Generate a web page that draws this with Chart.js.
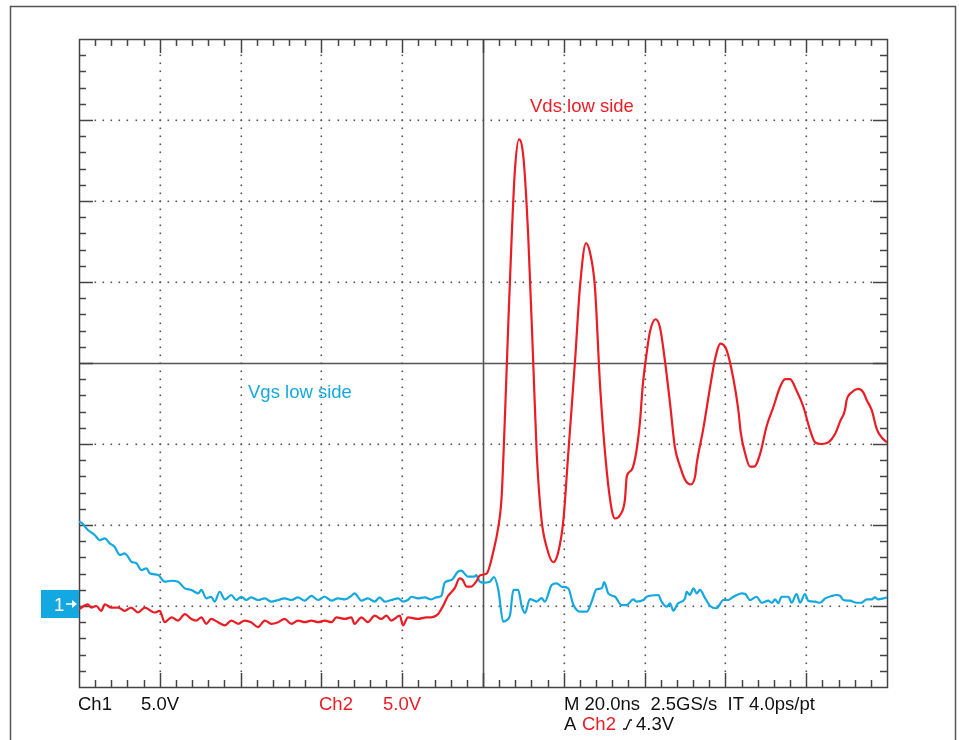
<!DOCTYPE html>
<html>
<head>
<meta charset="utf-8">
<title>Vds / Vgs low side</title>
<script src="https://cdn.jsdelivr.net/npm/chart.js@4.4.1/dist/chart.umd.min.js"></script>
<style>
  html, body { margin: 0; padding: 0; background: #fff; }
  canvas { display: block; }
</style>
</head>
<body>
<canvas id="scope" width="959" height="740"></canvas>
<script>
// time in ns (20 ns/div, trigger at 0), volts (5 V/div, ground marker at 0)
const timeRange = [-100, 100];
const voltRange = [-5, 35];
const timePerDiv = 20;
const voltPerDiv = 5;

const channelLabels = ['Ch1', '5.0V', 'Ch2', '5.0V'];
const timebaseLabel = 'M 20.0ns  2.5GS/s  IT 4.0ps/pt';
const triggerLabels = ['A', 'Ch2', '4.3V'];
const traceNames = ['Vds low side', 'Vgs low side'];

// Ch2 - Vds low side [t, V]
const vds = [
  [-100, -0.2], [-97.8, 0.1], [-97, -0.1], [-95.7, 0], [-94.5, -0.3], [-93.6, 0.1], [-92, -0.1],
  [-90.3, -0.1], [-88.7, -0.3], [-87.1, -0.1], [-85.4, -0.4], [-83.7, -0.1], [-81.3, -0.4], [-80, -0.3],
  [-78.8, -1], [-77.1, -0.7], [-75.5, -0.9], [-73.8, -0.5], [-72.2, -0.8], [-71, -0.9], [-69.7, -0.7],
  [-68.5, -1.1], [-67.3, -0.8], [-65.6, -1], [-63.9, -1.2], [-62.3, -0.9], [-60.6, -1.1], [-59, -0.9],
  [-57.4, -1], [-55.7, -1.3], [-54, -0.9], [-52.4, -1.1], [-50.7, -1], [-49.1, -0.8], [-47.4, -1.1],
  [-45.8, -0.9], [-44.1, -1], [-42.5, -0.9], [-40.8, -1], [-39.2, -0.9], [-37.5, -1], [-36.3, -0.7],
  [-34.2, -0.8], [-32.6, -0.7], [-31.8, -1.1], [-30.1, -0.7], [-28.5, -1], [-26.8, -0.6], [-25.2, -0.8],
  [-23.9, -0.6], [-22.7, -0.9], [-20.6, -0.6], [-19.8, -1.2], [-18.6, -0.7], [-16.1, -0.8], [-14, -0.7],
  [-12.8, -0.7], [-11.1, -0.5], [-9.9, 0], [-8.7, 0.6], [-7, 1.1], [-5.8, 1.7], [-5, 1.6], [-4.1, 1.2],
  [-2.9, 1.2], [-1.7, 1.5], [-0.7, 1.9], [0.9, 2.0], [2.5, 3.3], [3.8, 4.9], [4.6, 6.7], [5.4, 11.5],
  [6.3, 17.7], [7.1, 22.8], [7.9, 26.9], [8.9, 28.8], [10, 27.7], [11.2, 22.8], [12.5, 14.6], [13.3, 9.4],
  [14.5, 5.3], [15.8, 3.6], [17.4, 2.7], [18.6, 3.3], [19.9, 5.3], [21.1, 9.4], [22.8, 15.2], [24, 19.7],
  [25.5, 22.4], [26.5, 21.8], [27.7, 19.7], [29, 13.5], [30.6, 8.4], [31.9, 5.9], [32.7, 5.4], [33.9, 5.6],
  [35.1, 6.5], [35.6, 8], [36.8, 8.4], [38, 9.6], [38.9, 11.5], [39.5, 13.5], [40.5, 15.6], [41.3, 16.9],
  [42.7, 17.7], [43.8, 17.2], [45, 15.2], [46.3, 12.5], [47.5, 9.8], [48.8, 8.6], [50, 7.8], [51.4, 7.5],
  [52.5, 8], [52.9, 8.8], [54.5, 10.9], [56.2, 13.5], [57.4, 15.2], [58.8, 16.2], [60.3, 15.8], [62, 14],
  [63.2, 12.1], [63.8, 10.7], [64.9, 9.4], [66.1, 8.6], [67.1, 8.6], [68.6, 9.4], [70.2, 11.1], [71.9, 12.3],
  [73.5, 13.5], [74.8, 14], [76, 14], [77.6, 13.3], [79.3, 12.3], [80.9, 10.9], [82.2, 10.1], [83.8, 10],
  [85.5, 10.1], [87.1, 10.6], [88.4, 11.4], [89.6, 12.1], [90, 12.7], [91.3, 13.2], [92.9, 13.4], [94.1, 13.2],
  [95, 12.7], [96.2, 12.1], [97.5, 10.9], [98.7, 10.4], [100, 10.1]
];

// Ch1 - Vgs low side [t, V]
const vgs = [
  [-100, 5.2], [-99.4, 5.14], [-97.8, 4.69], [-96.1, 4.38], [-94.9, 4.07], [-93.6, 4.18], [-92.4, 3.87],
  [-91.2, 3.66], [-89.9, 3.15], [-88.7, 3.25], [-87.9, 3.05], [-87.1, 2.74], [-85.8, 2.64], [-84.6, 2.22],
  [-83.3, 2.33], [-82.5, 2.02], [-80.4, 1.91], [-78.8, 1.5], [-77.1, 1.56], [-75.5, 1.5], [-73.8, 1.09],
  [-72.2, 0.99], [-70.5, 0.78], [-69.7, 0.99], [-68.5, 0.47], [-67.3, 0.57], [-66.4, 0.27], [-65.2, 0.88],
  [-63.9, 0.41], [-62.3, 0.68], [-61.1, 0.37], [-59.8, 0.57], [-58.6, 0.37], [-57.4, 0.53], [-55.7, 0.37],
  [-54, 0.47], [-52.4, 0.27], [-50.7, 0.37], [-49.1, 0.47], [-47.4, 0.37], [-45.8, 0.53], [-44.1, 0.33],
  [-42.5, 0.62], [-40.8, 0.37], [-39.2, 0.57], [-37.5, 0.33], [-35.9, 0.47], [-34.2, 0.41], [-32.6, 0.62],
  [-31.8, 0.78], [-30.1, 0.33], [-28.5, 0.47], [-26.8, 0.27], [-25.6, 0.53], [-24.3, 0.27], [-22.7, 0.37],
  [-21, 0.47], [-19.8, 0.27], [-18.6, 0.37], [-17.7, 0.57], [-16.1, 0.47], [-14.4, 0.53], [-12.8, 0.41],
  [-11.6, 0.53], [-10.3, 0.62], [-9.5, 1.44], [-7.8, 1.6], [-6.2, 2.12], [-5.4, 2.18], [-3.7, 1.81],
  [-2.1, 1.81], [-1.7, 1.91], [-0.8, 1.5], [0.1, 1.44], [1.7, 1.5], [2.7, 1.79], [3.8, 0.99], [5, -0.97],
  [5.9, -0.86], [6.7, -0.56], [7.5, 0.99], [8.7, 0.99], [9.6, -0.04], [10.4, -0.43], [11.6, 0.43],
  [13.3, 0.27], [14.5, 0.49], [15.3, 0.27], [17, 1.3], [18.2, 1.4], [19.5, 1.19], [21.1, 1.09], [22.4, 0.06],
  [24, -0.35], [25.7, -0.35], [26.9, 0.27], [28.1, 1.03], [29.4, 1.09], [30, 1.48], [31, 0.78], [32.7, 0.57],
  [34.3, 0.06], [35.6, 0.06], [37.2, 0.41], [38, 0.27], [39.7, 0.37], [40.5, 0.57], [43.4, 0.68], [44.2, 0.27],
  [45.5, -0.04], [46.3, 0.17], [47.1, -0.29], [48.3, 0.17], [50, 0.47], [50.4, 0.88], [51.2, 0.68], [52.1, 1.09],
  [52.9, 0.78], [53.7, 0.99], [55, 0.47], [56.2, 0], [57.8, -0.14], [59.5, 0.37], [60.7, 0.37], [62, 0.57],
  [64, 0.78], [64.9, 0.74], [66.1, 0.37], [67.7, 0.57], [69, 0.2], [70.6, 0.33], [71.5, 0.2], [72.3, 0.41],
  [73.1, 0.17], [73.9, 0.57], [75.6, 0.57], [76.4, 0.2], [77.6, 0.74], [78.5, 0.2], [79.7, 0.74], [80.5, 0.33],
  [82.2, 0.27], [83.4, 0.2], [84.7, 0.47], [86.3, 0.62], [87.5, 0.68], [88.4, 0.62], [89.2, 0.37], [90.8, 0.33],
  [92.5, 0.2], [93.7, 0.2], [95, 0.41], [96.2, 0.41], [97, 0.53], [97.8, 0.41], [99.1, 0.47], [100, 0.53]
];

const RED = '#ec1c24';
const BLUE = '#14a8e0';
const FONT = '18.5px "Liberation Sans", Arial, Helvetica, sans-serif';

// graticule: dotted divisions, solid centre cross, border with ticks
const graticule = {
  id: 'graticule',
  beforeDatasetsDraw(chart) {
    const { ctx, chartArea: a, scales: { x, y } } = chart;
    const nx = (timeRange[1] - timeRange[0]) / timePerDiv;
    const ny = (voltRange[1] - voltRange[0]) / voltPerDiv;
    const tMid = (timeRange[0] + timeRange[1]) / 2;
    const vMid = (voltRange[0] + voltRange[1]) / 2;
    ctx.save();

    ctx.fillStyle = '#555';
    for (let i = 1; i < nx; i++) {
      const t = timeRange[0] + i * timePerDiv;
      if (t === tMid) continue;
      const px = Math.round(x.getPixelForValue(t));
      for (let k = 2; k < ny * 10 - 1; k++) {
        const py = Math.round(y.getPixelForValue(voltRange[0] + k * voltPerDiv / 10));
        ctx.fillRect(px - 0.5, py - 0.5, 1.6, 1.6);
      }
    }
    for (let j = 1; j < ny; j++) {
      const v = voltRange[0] + j * voltPerDiv;
      if (v === vMid) continue;
      const py = Math.round(y.getPixelForValue(v));
      for (let k = 2; k < nx * 10 - 1; k++) {
        const px = Math.round(x.getPixelForValue(timeRange[0] + k * timePerDiv / 10));
        ctx.fillRect(px - 0.5, py - 0.5, 1.6, 1.6);
      }
    }

    // centre cross
    ctx.strokeStyle = '#555';
    ctx.lineWidth = 1.6;
    const cx = Math.round(x.getPixelForValue(tMid)) + 0.5;
    const cy = Math.round(y.getPixelForValue(vMid)) + 0.5;
    ctx.beginPath();
    ctx.moveTo(cx, a.top); ctx.lineTo(cx, a.bottom);
    ctx.moveTo(a.left, cy); ctx.lineTo(a.right, cy);
    ctx.stroke();

    // border ticks, 5 per division
    ctx.strokeStyle = '#444';
    ctx.lineWidth = 1.5;
    ctx.beginPath();
    for (let k = 1; k < nx * 5; k++) {
      const px = Math.round(x.getPixelForValue(timeRange[0] + k * timePerDiv / 5)) + 0.5;
      const len = k % 5 === 0 ? 14 : 7;
      ctx.moveTo(px, a.top); ctx.lineTo(px, a.top + len);
      ctx.moveTo(px, a.bottom); ctx.lineTo(px, a.bottom - len);
    }
    for (let k = 1; k < ny * 5; k++) {
      const py = Math.round(y.getPixelForValue(voltRange[0] + k * voltPerDiv / 5)) + 0.5;
      const len = k % 5 === 0 ? 14 : 7;
      ctx.moveTo(a.left, py); ctx.lineTo(a.left + len, py);
      ctx.moveTo(a.right, py); ctx.lineTo(a.right - len, py);
    }
    ctx.stroke();
    ctx.strokeRect(Math.round(a.left) + 0.5, Math.round(a.top) + 0.5,
      Math.round(a.right - a.left), Math.round(a.bottom - a.top));
    ctx.restore();
  },

  afterDraw(chart) {
    const { ctx, chartArea: a, scales: { x, y } } = chart;
    ctx.save();

    // outer frame, open at the bottom
    ctx.strokeStyle = '#555';
    ctx.lineWidth = 1.5;
    ctx.beginPath();
    ctx.moveTo(10.5, 745); ctx.lineTo(10.5, 6.5); ctx.lineTo(955.5, 6.5); ctx.lineTo(955.5, 745);
    ctx.stroke();

    ctx.font = FONT;
    ctx.textBaseline = 'alphabetic';

    // trace names
    ctx.fillStyle = RED;
    ctx.fillText(traceNames[0], 530, 112);
    ctx.fillStyle = BLUE;
    ctx.fillText(traceNames[1], 248, 398);

    // ground marker for Ch1
    const gy = Math.round(y.getPixelForValue(0));
    ctx.fillStyle = BLUE;
    ctx.fillRect(41, gy - 16, a.left - 41, 28);
    ctx.fillStyle = '#fff';
    ctx.fillText('1', 54, gy + 5);
    ctx.strokeStyle = '#fff';
    ctx.lineWidth = 1.5;
    ctx.beginPath();
    ctx.moveTo(66, gy - 2); ctx.lineTo(73, gy - 2);
    ctx.stroke();
    ctx.beginPath();
    ctx.moveTo(72, gy - 6); ctx.lineTo(77, gy - 2); ctx.lineTo(72, gy + 2);
    ctx.closePath(); ctx.fill();

    // readouts below the graticule
    const row1 = a.bottom + 23;
    const row2 = a.bottom + 43;
    ctx.fillStyle = '#111';
    ctx.fillText(channelLabels[0], 78, row1);
    ctx.fillText(channelLabels[1], 141, row1);
    ctx.fillStyle = RED;
    ctx.fillText(channelLabels[2], 319, row1);
    ctx.fillText(channelLabels[3], 383, row1);
    ctx.fillStyle = '#111';
    ctx.fillText(timebaseLabel, 564, row1);
    ctx.fillText(triggerLabels[0], 564, row2);
    ctx.fillStyle = RED;
    ctx.fillText(triggerLabels[1], 582, row2);
    ctx.fillStyle = '#111';
    ctx.fillText(triggerLabels[2], 636, row2);
    // rising edge symbol
    ctx.strokeStyle = '#111';
    ctx.lineWidth = 1.3;
    ctx.beginPath();
    ctx.moveTo(623, row2 - 1); ctx.lineTo(626, row2 - 1);
    ctx.lineTo(630, row2 - 10); ctx.lineTo(632, row2 - 10);
    ctx.stroke();

    ctx.restore();
  }
};

new Chart(document.getElementById('scope'), {
  type: 'line',
  data: {
    datasets: [
      {
        label: traceNames[0],
        data: vds.map(([t, v]) => ({ x: t, y: v })),
        borderColor: RED,
        borderWidth: 2.2,
        pointRadius: 0,
        cubicInterpolationMode: 'monotone',
      },
      {
        label: traceNames[1],
        data: vgs.map(([t, v]) => ({ x: t, y: v })),
        borderColor: BLUE,
        borderWidth: 2.2,
        pointRadius: 0,
        cubicInterpolationMode: 'monotone',
      },
    ],
  },
  options: {
    responsive: false,
    devicePixelRatio: 1,
    animation: false,
    layout: { padding: { left: 79, top: 39, right: 72, bottom: 53 } },
    scales: {
      x: { type: 'linear', min: timeRange[0], max: timeRange[1], display: false },
      y: { type: 'linear', min: voltRange[0], max: voltRange[1], display: false },
    },
    plugins: {
      legend: { display: false },
      tooltip: { enabled: false },
    },
  },
  plugins: [graticule],
});
</script>
</body>
</html>
